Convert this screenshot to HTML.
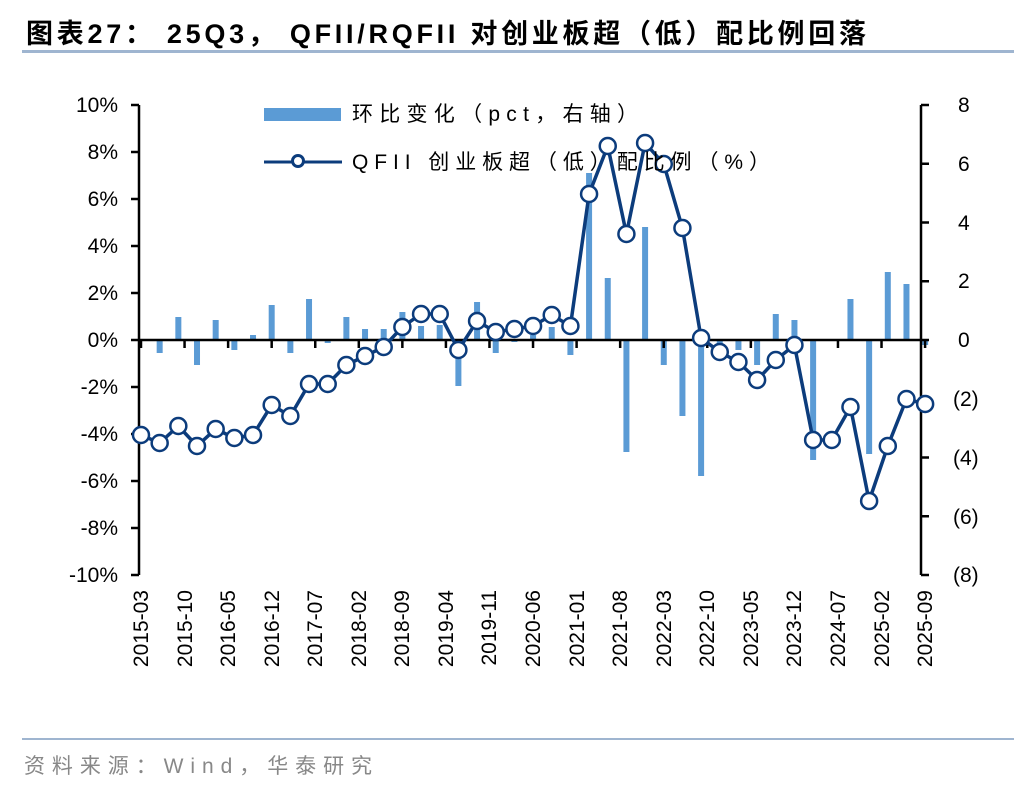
<!DOCTYPE html>
<html><head><meta charset="utf-8"><style>
body{margin:0;background:#fff;}
svg{display:block;font-family:"Liberation Sans","Noto Sans CJK SC",sans-serif;}
</style></head><body>
<svg id="s" width="1036" height="792" viewBox="0 0 1036 792">
<text x="26" y="43" font-size="27" font-weight="bold" fill="#000" textLength="840" lengthAdjust="spacing">图表27：  25Q3，  QFII/RQFII 对创业板超（低）配比例回落</text>
<rect x="22" y="50" width="992" height="3" fill="#9fb5d0"/>
<rect x="22" y="738" width="992" height="2" fill="#9fb5d0"/>
<text x="24" y="773" font-size="21" fill="#888" textLength="348" lengthAdjust="spacing">资料来源：Wind，华泰研究</text>
<g font-size="21" fill="#000" text-anchor="end">
<text x="118" y="112">10%</text><text x="118" y="159">8%</text><text x="118" y="206">6%</text><text x="118" y="253">4%</text><text x="118" y="300">2%</text><text x="118" y="347">0%</text><text x="118" y="394">-2%</text><text x="118" y="441">-4%</text><text x="118" y="488">-6%</text><text x="118" y="535">-8%</text><text x="118" y="582">-10%</text>
</g>
<g font-size="21" fill="#000">
<text x="958" y="112">8</text><text x="958" y="171">6</text><text x="958" y="230">4</text><text x="958" y="288">2</text><text x="958" y="347">0</text><text x="953" y="406">(2)</text><text x="953" y="465">(4)</text><text x="953" y="524">(6)</text><text x="953" y="582">(8)</text>
</g>
<g font-size="21" fill="#000" text-anchor="end">
<text transform="translate(148,590) rotate(-90)">2015-03</text>
<text transform="translate(192,590) rotate(-90)">2015-10</text>
<text transform="translate(235,590) rotate(-90)">2016-05</text>
<text transform="translate(279,590) rotate(-90)">2016-12</text>
<text transform="translate(322,590) rotate(-90)">2017-07</text>
<text transform="translate(366,590) rotate(-90)">2018-02</text>
<text transform="translate(409,590) rotate(-90)">2018-09</text>
<text transform="translate(453,590) rotate(-90)">2019-04</text>
<text transform="translate(496,590) rotate(-90)">2019-11</text>
<text transform="translate(540,590) rotate(-90)">2020-06</text>
<text transform="translate(584,590) rotate(-90)">2021-01</text>
<text transform="translate(627,590) rotate(-90)">2021-08</text>
<text transform="translate(671,590) rotate(-90)">2022-03</text>
<text transform="translate(714,590) rotate(-90)">2022-10</text>
<text transform="translate(758,590) rotate(-90)">2023-05</text>
<text transform="translate(801,590) rotate(-90)">2023-12</text>
<text transform="translate(845,590) rotate(-90)">2024-07</text>
<text transform="translate(889,590) rotate(-90)">2025-02</text>
<text transform="translate(932,590) rotate(-90)">2025-09</text>
</g>
<g id="bars" fill="#5b9bd5"></g>
<g id="axes" stroke="#000" stroke-width="2.5" fill="none"></g>
<g id="line"></g>
<rect x="264" y="108" width="77" height="13" fill="#5b9bd5"/>
<text x="352" y="121" font-size="21" fill="#000" textLength="286" lengthAdjust="spacing">环比变化（pct，右轴）</text>
<line x1="264" y1="162" x2="342" y2="162" stroke="#0c3c7c" stroke-width="3"/>
<circle cx="298" cy="161" r="5.5" fill="#fff" stroke="#0c3c7c" stroke-width="3"/>
<text x="352" y="169" font-size="21" fill="#000" textLength="418" lengthAdjust="spacing">QFII 创业板超（低）配比例（%）</text>
</svg>
<script>
var NS="http://www.w3.org/2000/svg";
function el(t,a,p){var e=document.createElementNS(NS,t);for(var k in a)e.setAttribute(k,a[k]);document.getElementById(p).appendChild(e);return e;}
var X=function(i){return 141+i*18.67;};
var ly=[435,443,426,446,429,438,435,405,416,384,384,365,356,347,327,314,314,350,321,332,329,326,315,326,194,146,234,143,164,228,338,352,362,380,360,345,440,440,407,501,446,399,404];
var by=[340,353,317,365,320,350,335,305,353,299,343,317,329,329,312,326,325,386,302,353,342,335,327,355,173,278,452,227,365,416,476,345,350,365,314,320,460,340,299,454,272,284,345];
by.forEach(function(v,i){var y=Math.min(v,340),h=Math.abs(v-340);if(h>0)el('rect',{x:X(i)-3,y:y,width:6,height:h},'bars');});
var A='axes';
el('line',{x1:139,y1:105,x2:139,y2:575},A);
el('line',{x1:921,y1:105,x2:921,y2:575},A);
el('line',{x1:139,y1:340,x2:921,y2:340},A);
for(var k=0;k<=10;k++){var y=105+k*47;el('line',{x1:131,y1:y,x2:139,y2:y},A);}
for(var k=0;k<=8;k++){var y=105+k*58.75;el('line',{x1:921,y1:y,x2:929,y2:y},A);}
for(var k=0;k<19;k++){var x=141+k*43.56;el('line',{x1:x,y1:340,x2:x,y2:348},A);}
var pts=ly.map(function(v,i){return X(i)+','+v;}).join(' ');
el('polyline',{points:pts,fill:'none',stroke:'#0c3c7c','stroke-width':3.5},'line');
ly.forEach(function(v,i){el('circle',{cx:X(i),cy:v,r:8,fill:'#fff',stroke:'#0c3c7c','stroke-width':2.5},'line');});
</script>
</body></html>
